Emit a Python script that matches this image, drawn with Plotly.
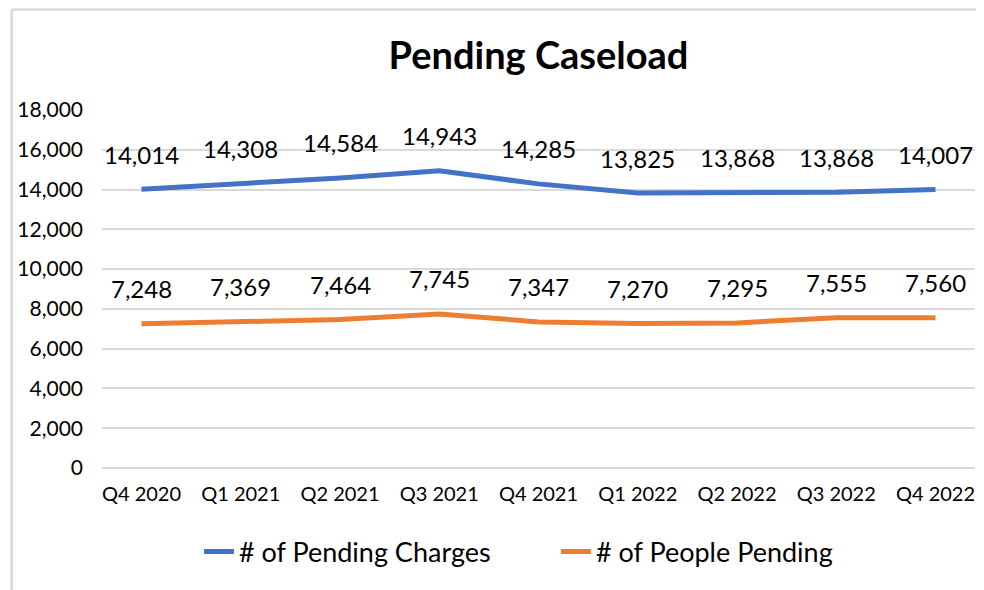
import plotly.graph_objects as go

quarters = ["Q4 2020", "Q1 2021", "Q2 2021", "Q3 2021", "Q4 2021",
            "Q1 2022", "Q2 2022", "Q3 2022", "Q4 2022"]
pending_charges = [14014, 14308, 14584, 14943, 14285, 13825, 13868, 13868, 14007]
people_pending = [7248, 7369, 7464, 7745, 7347, 7270, 7295, 7555, 7560]

FONT = "Lato"
BLUE = "#4472C4"
ORANGE = "#ED7D31"

W, H = 976, 582
ML, MR, MT, MB = 92, 9, 102, 122
PW, PH = W - ML - MR, H - MT - MB

fig = go.Figure()
fig.add_trace(go.Scatter(
    x=quarters, y=pending_charges, mode="lines", name="# of Pending Charges",
    line=dict(color=BLUE, width=5),
))
fig.add_trace(go.Scatter(
    x=quarters, y=people_pending, mode="lines", name="# of People Pending",
    line=dict(color=ORANGE, width=5),
))

annotations = []
for series in (pending_charges, people_pending):
    for q, v in zip(quarters, series):
        annotations.append(dict(
            x=q, y=v, xref="x", yref="y", text=f"{v:,}", showarrow=False,
            yanchor="middle", xanchor="center", yshift=35,
            font=dict(size=24, color="#000000", family=FONT),
        ))

fig.update_layout(
    width=W, height=H,
    paper_bgcolor="white", plot_bgcolor="white",
    margin=dict(l=ML, r=MR, t=MT, b=MB),
    title=dict(text="<b>Pending Caseload</b>", x=0.5, xanchor="center",
               xref="paper", y=1 - 48 / H, yanchor="middle",
               font=dict(size=38, color="#000000", family=FONT)),
    font=dict(family=FONT, color="#000000"),
    xaxis=dict(type="category", showgrid=False, showline=False, ticks="",
               ticklabelstandoff=12,
               tickfont=dict(size=20, color="#000000")),
    yaxis=dict(range=[0, 18000], dtick=2000, tickformat=",d",
               showgrid=True, gridcolor="#D9D9D9", gridwidth=1.5,
               zeroline=True, zerolinecolor="#D9D9D9", zerolinewidth=1.5,
               showline=False, ticks="", ticklabelstandoff=18,
               tickfont=dict(size=21, color="#000000")),
    legend=dict(orientation="h", x=0.52, xanchor="center", y=-84 / PH, yanchor="middle",
                font=dict(size=27, color="#000000"),
                entrywidth=312, entrywidthmode="pixels",
                tracegroupgap=0),
    showlegend=True,
    annotations=annotations,
    shapes=[
        dict(type="line", xref="paper", yref="paper",
             x0=-(ML - 1.5) / PW, x1=1 + MR / PW, y0=1 + (MT - 1.5) / PH, y1=1 + (MT - 1.5) / PH,
             line=dict(color="#D9D9D9", width=2.5)),
        dict(type="line", xref="paper", yref="paper",
             x0=-(ML - 1.5) / PW, x1=-(ML - 1.5) / PW, y0=-MB / PH, y1=1 + (MT - 1.5) / PH,
             line=dict(color="#D9D9D9", width=2.5)),
    ],
)

fig.write_html("out.html")
